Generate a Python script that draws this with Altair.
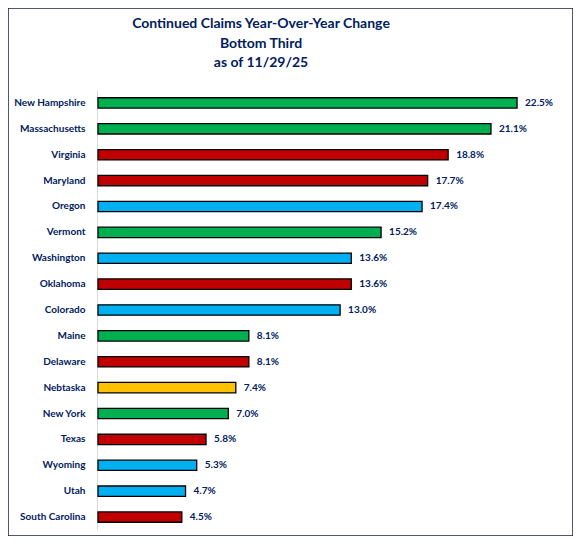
import altair as alt
import pandas as pd

states = ["New Hampshire", "Massachusetts", "Virginia", "Maryland", "Oregon",
          "Vermont", "Washington", "Oklahoma", "Colorado", "Maine", "Delaware",
          "Nebtaska", "New York", "Texas", "Wyoming", "Utah", "South Carolina"]
values = [22.5, 21.1, 18.8, 17.7, 17.4, 15.2, 13.6, 13.6, 13.0, 8.1, 8.1,
          7.4, 7.0, 5.8, 5.3, 4.7, 4.5]
groups = ["green", "green", "red", "red", "blue", "green", "blue", "red", "blue",
          "green", "red", "yellow", "green", "red", "blue", "blue", "red"]
group_names = ["green", "red", "blue", "yellow"]
group_colors = ["#00B050", "#C00000", "#00B0F0", "#FFC000"]
title_lines = ["Continued Claims Year-Over-Year Change", "Bottom Third", "as of 11/29/25"]

df = pd.DataFrame({"state": states, "value": values, "group": groups})

NAVY = "#002060"
FONT = "Lato"

y_enc = alt.Y("state:N", sort=states,
              scale=alt.Scale(range=[82, 522], paddingInner=0.6, paddingOuter=0.3),
              axis=alt.Axis(title=None, offset=-89, ticks=False, labelPadding=12,
                            labelFont=FONT, labelFontSize=10, labelFontWeight="bold",
                            labelColor=NAVY, domainColor="#D9D9D9", domainWidth=1))
x_scale = alt.Scale(domain=[0, 25], range=[90, 555.6])

bars = alt.Chart(df).mark_bar(stroke="black", strokeWidth=1.3).encode(
    x=alt.X("value:Q", scale=x_scale, axis=None),
    y=y_enc,
    color=alt.Color("group:N", scale=alt.Scale(domain=group_names, range=group_colors), legend=None),
)

labels = alt.Chart(df).transform_calculate(
    label="format(datum.value, '.1f') + '%'"
).mark_text(align="left", baseline="middle", dx=8, font=FONT, fontSize=10,
            fontWeight="bold", color=NAVY).encode(
    x=alt.X("value:Q", scale=x_scale, axis=None),
    y=alt.Y("state:N", sort=states),
    text="label:N",
)

chart = alt.layer(bars, labels).properties(
    width=565, height=528,
    padding=0,
    title=alt.TitleParams(text=title_lines, font=FONT, fontSize=14, fontWeight="bold",
                          color=NAVY, lineHeight=19.5, anchor="middle", offset=-62, dx=-29.5),
).configure_view(stroke="#14213D", strokeWidth=1.5)

chart.save("out.html", embed_options={"renderer": "svg", "actions": False})
